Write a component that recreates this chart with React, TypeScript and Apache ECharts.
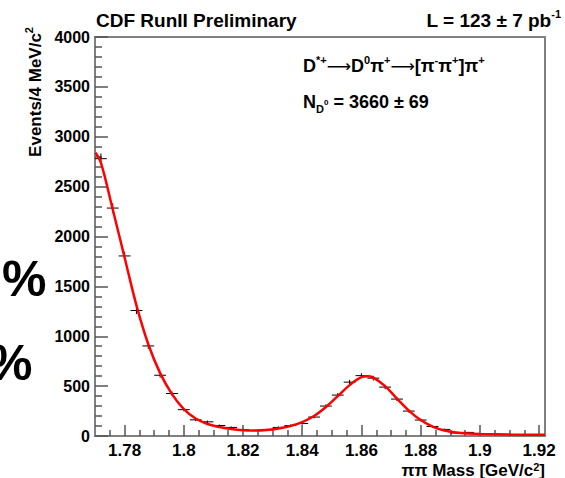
import React, { useEffect, useRef } from "react";
import * as echarts from "echarts";

// Bin centres (GeV/c^2), 4 MeV bins
const massBins = [
  1.772, 1.776, 1.78, 1.784, 1.788, 1.792, 1.796, 1.8, 1.804, 1.808,
  1.812, 1.816, 1.82, 1.824, 1.828, 1.832, 1.836, 1.84, 1.844, 1.848,
  1.852, 1.856, 1.86, 1.864, 1.868, 1.872, 1.876, 1.88, 1.884, 1.888,
  1.892, 1.896, 1.9, 1.904, 1.908, 1.912, 1.916, 1.92,
];
// Events per bin
const counts = [
  2780, 2285, 1805, 1258, 903, 609, 426, 264, 162, 142,
  105, 86, 65, 55, 65, 86, 105, 125, 190, 300,
  410, 540, 605, 580, 490, 370, 250, 160, 95, 66,
  30, 36, 25, 20, 15, 15, 12, 10,
];
// Fit curve
const fitMass = [
  1.7702, 1.772, 1.776, 1.78, 1.784, 1.788, 1.792, 1.796, 1.8, 1.804,
  1.808, 1.812, 1.816, 1.82, 1.824, 1.828, 1.832, 1.836, 1.84, 1.844,
  1.848, 1.852, 1.856, 1.86, 1.862, 1.864, 1.868, 1.872, 1.876, 1.88,
  1.884, 1.888, 1.892, 1.896, 1.9, 1.91, 1.922,
];
const fitValues = [
  2840, 2740, 2270, 1790, 1310, 920, 630, 420, 270, 175,
  120, 90, 70, 58, 55, 60, 75, 100, 140, 200,
  290, 400, 510, 590, 598, 585, 500, 375, 255, 160,
  95, 55, 35, 25, 20, 15, 12,
];
const xMajorTicks = [1.78, 1.8, 1.82, 1.84, 1.86, 1.88, 1.9, 1.92];
const xMinorTicks = [
  1.775, 1.785, 1.79, 1.795, 1.805, 1.81, 1.815, 1.825, 1.83, 1.835,
  1.845, 1.85, 1.855, 1.865, 1.87, 1.875, 1.885, 1.89, 1.895, 1.905,
  1.91, 1.915,
];

const FONT = "'Liberation Sans', Arial, Helvetica, sans-serif";
const ARROW_FONT = "'DejaVu Sans', sans-serif";

export default function App() {
  const ref = useRef<HTMLDivElement>(null);
  useEffect(() => {
    if (!ref.current) return;
    const chart = echarts.init(ref.current, undefined, { renderer: "svg" });
    const axisColor = "#808080";
    const tickColor = "#555";
    const supStyle = { fontSize: 11, fontWeight: "bold", fontFamily: FONT, fill: "#000", verticalAlign: "top", lineHeight: 24 };
    const subStyle = { fontSize: 11, fontWeight: "bold", fontFamily: FONT, fill: "#000", verticalAlign: "bottom", lineHeight: 24 };
    const bStyle = (s: number) => ({ fontSize: s, fontWeight: "bold", fontFamily: FONT, fill: "#000", lineHeight: 24 });
    const arStyle = { fontSize: 17, fontFamily: ARROW_FONT, fill: "#000", lineHeight: 24 };
    const option: any = {
      animation: false,
      grid: {
        left: 95,
        right: 20,
        top: 37,
        bottom: 42,
        show: true,
        borderColor: axisColor,
        borderWidth: 2,
        backgroundColor: "transparent",
      },
      xAxis: [
        {
          type: "value",
          min: 1.77,
          max: 1.922,
          position: "bottom",
          splitLine: { show: false },
          axisLine: { show: true, lineStyle: { color: axisColor, width: 2 } },
          axisTick: {
            show: true,
            inside: true,
            length: 11,
            customValues: xMajorTicks,
            lineStyle: { color: tickColor, width: 1.5 },
          },
          axisLabel: {
            customValues: xMajorTicks,
            formatter: (v: number) => String(+v.toFixed(2)),
            fontFamily: FONT,
            fontWeight: "bold",
            fontSize: 17,
            color: "#000",
            margin: 6,
          },
        },
        {
          type: "value",
          min: 1.77,
          max: 1.922,
          position: "bottom",
          splitLine: { show: false },
          axisLine: { show: false },
          axisTick: {
            show: true,
            inside: true,
            length: 6,
            customValues: xMinorTicks,
            lineStyle: { color: tickColor, width: 1.5 },
          },
          axisLabel: { show: false },
        },
      ],
      yAxis: {
        type: "value",
        min: 0,
        max: 4000,
        interval: 500,
        splitLine: { show: false },
        axisLine: { show: true, lineStyle: { color: axisColor, width: 2 } },
        axisTick: { show: true, inside: true, length: 13, lineStyle: { color: tickColor, width: 1.5 } },
        minorTick: { show: true, splitNumber: 5, length: 7, lineStyle: { color: tickColor, width: 1.5 } },
        axisLabel: {
          formatter: (v: number) => String(v),
          fontFamily: FONT,
          fontWeight: "bold",
          fontSize: 16,
          color: "#000",
          margin: 5,
        },
      },
      series: [
        {
          type: "custom",
          xAxisIndex: 0,
          clip: true,
          data: massBins.map((m, i) => [m, counts[i], Math.sqrt(counts[i])]),
          renderItem: (_p: any, api: any) => {
            const x = api.value(0);
            const y = api.value(1);
            const e = api.value(2);
            const l = api.coord([x - 0.002, y]);
            const r = api.coord([x + 0.002, y]);
            const t = api.coord([x, y + e]);
            const b = api.coord([x, y - e]);
            return {
              type: "group",
              children: [
                { type: "line", shape: { x1: l[0], y1: l[1], x2: r[0], y2: r[1] }, style: { stroke: "#000", lineWidth: 1 } },
                { type: "line", shape: { x1: t[0], y1: t[1], x2: b[0], y2: b[1] }, style: { stroke: "#000", lineWidth: 1 } },
              ],
            };
          },
        },
        {
          type: "line",
          xAxisIndex: 0,
          data: fitMass.map((m, i) => [m, fitValues[i]]),
          smooth: 0.35,
          showSymbol: false,
          symbol: "none",
          lineStyle: { color: "#ff0000", width: 2.5 },
          z: 5,
        },
      ],
      graphic: [
        {
          type: "text",
          x: 96,
          y: 20,
          style: { text: "CDF RunII Preliminary", font: `bold 19px ${FONT}`, fill: "#000", verticalAlign: "middle" },
        },
        {
          type: "text",
          x: 561,
          y: 20,
          style: {
            text: "{b|L = 123 ± 7 pb}{sup|-1}",
            align: "right",
            verticalAlign: "middle",
            rich: { b: bStyle(19), sup: supStyle },
          },
        },
        {
          type: "text",
          x: 303,
          y: 66,
          style: {
            text: "{b|D}{sup|*+}{ar|⟶}{b|D}{sup|0}{b|π}{sup|+}{ar|⟶}{b|[π}{sup|-}{b|π}{sup|+}{b|]π}{sup|+}",
            align: "left",
            verticalAlign: "middle",
            rich: { b: bStyle(18), sup: supStyle, ar: arStyle },
          },
        },
        {
          type: "text",
          x: 303,
          y: 102,
          style: {
            text: "{b|N}{sub|D}{sup|0}{b| = 3660 ± 69}",
            align: "left",
            verticalAlign: "middle",
            rich: { b: bStyle(18), sub: subStyle, sup: { ...supStyle, fontSize: 8, verticalAlign: "middle" } },
          },
        },
        {
          type: "text",
          x: 545,
          y: 470,
          style: {
            text: "{b|ππ Mass [GeV/c}{sup|2}{b|]}",
            align: "right",
            verticalAlign: "middle",
            rich: { b: { ...bStyle(17), lineHeight: 18 }, sup: { ...supStyle, lineHeight: 18 } },
          },
        },
        {
          type: "text",
          x: 35,
          y: 27,
          rotation: Math.PI / 2,
          style: {
            text: "{b|Events/4 MeV/c}{sup|2}",
            align: "right",
            verticalAlign: "middle",
            rich: { b: bStyle(17), sup: supStyle },
          },
        },
        {
          type: "text",
          x: 2,
          y: 279,
          style: { text: "%", font: `bold 50px ${FONT}`, fill: "#000", verticalAlign: "middle" },
        },
        {
          type: "text",
          x: -12,
          y: 363,
          style: { text: "%", font: `bold 50px ${FONT}`, fill: "#000", verticalAlign: "middle" },
        },
      ],
    };
    chart.setOption(option);
    return () => chart.dispose();
  }, []);
  return <div ref={ref} style={{ position: "fixed", left: 0, top: 0, width: 565, height: 478, background: "#fff" }} />;
}
